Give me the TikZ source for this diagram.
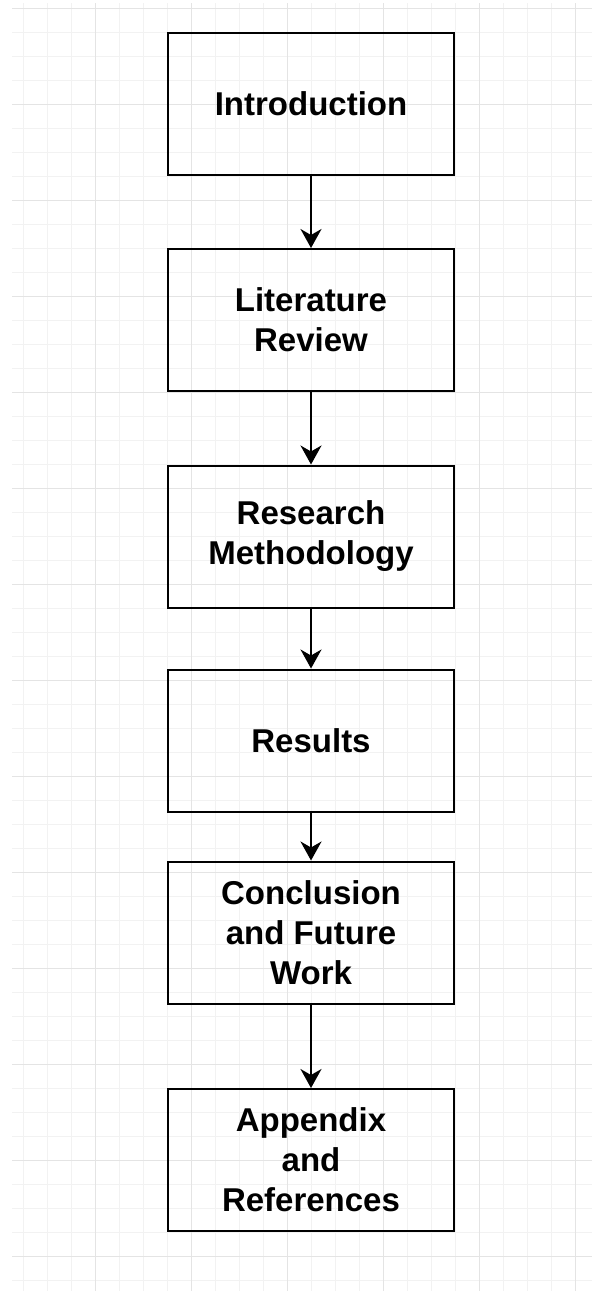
\documentclass[tikz,border=0pt]{standalone}
\usepackage{fontspec}
\setmainfont{Liberation Sans}
\usetikzlibrary{arrows.meta}

\definecolor{gridminor}{HTML}{F2F2F2}
\definecolor{gridmajor}{HTML}{E4E4E4}

\begin{document}
\begin{tikzpicture}[x=0.5pt, y=-0.5pt, >={Stealth[length=9.5pt, width=10.5pt, inset=3pt]},
    font=\fontsize{16.5}{20}\selectfont\bfseries,
    box/.style={draw, line width=1pt, minimum width=143pt, minimum height=71pt, align=center}]
    \useasboundingbox (0,0) rectangle (592,1291);
    % background grid
    \begin{scope}
      \clip (12,3) rectangle (592,1290);
      \foreach \x in {23,47,...,591} \draw[gridminor, line width=0.5pt] (\x,0) -- (\x,1291);
      \foreach \y in {8,32,...,1290} \draw[gridminor, line width=0.5pt] (0,\y) -- (592,\y);
      \foreach \x in {95,191,...,591} \draw[gridmajor, line width=0.5pt] (\x,0) -- (\x,1291);
      \foreach \y in {8,104,...,1290} \draw[gridmajor, line width=0.5pt] (0,\y) -- (592,\y);
    \end{scope}
    % chapters
    \node[box] (intro) at (311,103.5) {Introduction};
    \node[box] (lit) at (311,320) {Literature\\Review};
    \node[box] (method) at (311,536.5) {Research\\Methodology};
    \node[box] (res) at (311,740.5) {Results};
    \node[box] (concl) at (311,932.5) {Conclusion\\and Future\\Work};
    \node[box] (app) at (311,1160) {Appendix\\and\\References};
    \draw[->, line width=1pt] (intro.south) -- (lit.north);
    \draw[->, line width=1pt] (lit.south) -- (method.north);
    \draw[->, line width=1pt] (method.south) -- (res.north);
    \draw[->, line width=1pt] (res.south) -- (concl.north);
    \draw[->, line width=1pt] (concl.south) -- (app.north);
\end{tikzpicture}
\end{document}
